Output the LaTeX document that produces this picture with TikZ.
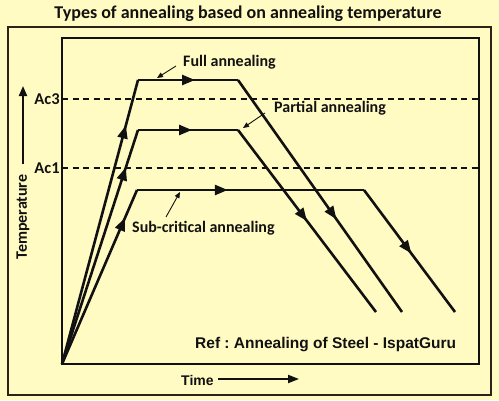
\documentclass[tikz,border=0pt]{standalone}
\usepackage{fontspec}
\setmainfont{Carlito}
\newfontfamily\arialf{Liberation Sans}
\usetikzlibrary{arrows.meta,decorations.markings}
\definecolor{bg}{HTML}{FFFBC2}
\definecolor{ink}{HTML}{111111}
\frenchspacing
\tikzset{
  lbl/.style={font=\bfseries\fontsize{16}{16}\selectfont, text=ink, inner sep=0pt},
  curve/.style={draw=ink, line width=2.6pt, line join=miter},
  midarrow/.style={postaction={decorate, decoration={markings,
     mark=at position #1 with {\arrow{Triangle[length=13pt,width=10pt]}}}}},
  pointer/.style={draw=ink, line width=0.9pt, -{Triangle[length=6pt,width=5pt]}},
  dashline/.style={draw=ink, line width=1.2pt, dash pattern=on 6pt off 4.5pt},
}
\begin{document}
\begin{tikzpicture}[x=1pt,y=-1pt]
\useasboundingbox (0,0) rectangle (499,400);
\fill[bg] (0,0) rectangle (499,400);
% frames
\draw[draw=ink!85!brown, line width=1.6pt] (8,27) rectangle (491,395);
\draw[draw=ink, line width=1.6pt] (62,38) rectangle (479,364);
% title
\node[lbl, font=\bfseries\fontsize{18}{18}\selectfont] (title) at (248,14) {Types of annealing based on annealing temperature};
% critical lines
\coordinate (ac3l) at (62,99); \coordinate (ac3r) at (479,99);
\coordinate (ac1l) at (62,168); \coordinate (ac1r) at (479,168);
\draw[dashline] (ac3l) -- (ac3r);
\draw[dashline] (ac1l) -- (ac1r);
\node[lbl, font=\bfseries\fontsize{16.5}{16.5}\selectfont] (ac3) at (47,99) {Ac3};
\node[lbl, font=\bfseries\fontsize{16.5}{16.5}\selectfont] (ac1) at (47,168) {Ac1};
% temperature axis label
\node[lbl, rotate=90] (temp) at (23,217) {Temperature};
\coordinate (tA) at (23,164); \coordinate (tB) at (23,86);
\draw[draw=ink, line width=2pt, -{Triangle[length=10pt,width=8pt]}] (tA) -- (tB);
% time label
\node[lbl, font=\arialf\bfseries\fontsize{14}{14}\selectfont, anchor=west] (time) at (181,380) {Time};
\coordinate (timeA) at (218,379); \coordinate (timeB) at (299,379);
\draw[draw=ink, line width=2pt, -{Triangle[length=11pt,width=8pt]}] (timeA) -- (timeB);
% curves
\coordinate (O) at (62,364);
\coordinate (f1) at (138,80); \coordinate (f2) at (238,80); \coordinate (f3) at (402,312);
\coordinate (p1) at (138,130); \coordinate (p2) at (238,130); \coordinate (p3) at (376,312);
\coordinate (s1) at (137,190); \coordinate (s2) at (364,190); \coordinate (s3) at (455,312);
\draw[curve, midarrow=0.84] (O) -- (f1);
\draw[curve, midarrow=0.57] (f1) -- (f2);
\draw[curve, midarrow=0.6] (f2) -- (f3);
\draw[curve, midarrow=0.84] (O) -- (p1);
\draw[curve, midarrow=0.54] (p1) -- (p2);
\draw[curve, midarrow=0.5] (p2) -- (p3);
\draw[curve, midarrow=0.84] (O) -- (s1);
\draw[curve, midarrow=0.4] (s1) -- (s2);
\draw[curve, midarrow=0.52] (s2) -- (s3);
% labels
\node[lbl, anchor=west] (full) at (183,62) {Full annealing};
\node[lbl, anchor=west] (partial) at (274,108) {Partial annealing};
\node[lbl, anchor=west] (sub) at (132,228) {Sub-critical annealing};
\coordinate (fa) at (176,66); \coordinate (fb) at (157,78);
\coordinate (pa) at (265,113); \coordinate (pb) at (243,128);
\coordinate (sa) at (166,217); \coordinate (sb) at (180,192);
\draw[pointer] (fa) -- (fb);
\draw[pointer] (pa) -- (pb);
\draw[pointer] (sa) -- (sb);
% reference
\node[lbl, font=\arialf\bfseries\fontsize{15.5}{15.5}\selectfont, anchor=west] (ref) at (195,345) {Ref : Annealing of Steel - IspatGuru};
\end{tikzpicture}
\end{document}
